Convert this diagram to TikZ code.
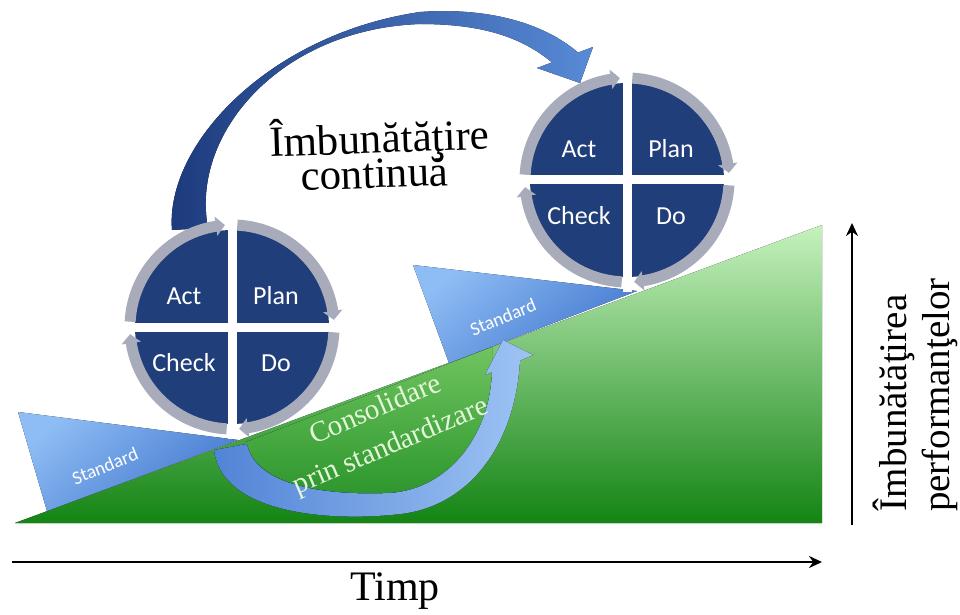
\documentclass[tikz,border=0pt]{standalone}
\usepackage{fontspec}
\setmainfont{Liberation Serif}
\newfontfamily\labelfont{Carlito}
\usetikzlibrary{arrows.meta,bending}

\definecolor{pdcanavy}{RGB}{32,62,122}
\definecolor{ringgray}{RGB}{168,172,186}
\definecolor{rampdark}{RGB}{20,132,20}
\definecolor{rampmid}{RGB}{92,178,82}
\definecolor{ramplight}{RGB}{198,242,190}
\definecolor{wedgelight}{RGB}{142,188,244}
\definecolor{wedgedark}{RGB}{66,120,206}
\definecolor{arcdark}{RGB}{28,58,124}
\definecolor{arclight}{RGB}{88,138,214}
\definecolor{bandlight}{RGB}{158,196,244}
\definecolor{banddark}{RGB}{82,132,214}
\definecolor{bowltop}{RGB}{112,196,96}
\definecolor{bowlbottom}{RGB}{44,150,44}
\definecolor{paletext}{RGB}{228,246,218}

\tikzset{
  rampfill/.style={top color=ramplight, middle color=rampmid, bottom color=rampdark},
  wedgefill/.style={top color=wedgelight, bottom color=wedgedark, shading angle=40},
  bandfill/.style={left color=banddark, right color=bandlight},
  arcfill/.style={left color=arcdark, right color=arclight},
  bowlfill/.style={top color=bowltop, bottom color=bowlbottom},
  ringarc/.style={draw=ringgray, line width=11pt, -{Triangle[length=9pt,width=19pt,bend]}},
  quadlabel/.style={text=white, font=\labelfont\fontsize{26}{30}\selectfont, inner sep=0pt},
  stdlabel/.style={text=white, font=\labelfont\fontsize{19}{22}\selectfont, rotate=22, inner sep=0pt},
  conslabel/.style={text=paletext, font=\fontsize{29}{39}\selectfont, rotate=23, inner sep=0pt, align=center},
  titlelabel/.style={text=black, font=\fontsize{43}{46}\selectfont, anchor=base, inner sep=0pt},
  axislabel/.style={text=black, font=\fontsize{39}{42}\selectfont, anchor=base, inner sep=0pt},
  axisarrow/.style={draw=black, line width=2.6pt, -{Stealth[length=13pt,width=12pt]}}
}

% One PDCA wheel: #1,#2 = centre, #3 = name suffix
\newcommand\pdcawheel[3]{%
  \begin{scope}[shift={(#1,#2)}]
    \fill[pdcanavy] (0,0) circle[radius=97];
    \draw[white, line width=9pt] (-112,0) -- (112,0) (0,-112) -- (0,112);
    \foreach \a in {0,90,180,270}
      \draw[ringarc] (\a+87:102) arc[start angle=\a+87, end angle=\a+4, radius=102];
    \node[quadlabel] (act#3)   at (-48,31)  {Act};
    \node[quadlabel] (plan#3)  at (44,31)   {Plan};
    \node[quadlabel] (check#3) at (-48,-36) {Check};
    \node[quadlabel] (do#3)    at (44,-36)  {Do};
  \end{scope}}

\begin{document}
\begin{tikzpicture}[x=1pt,y=1pt]
  \useasboundingbox (0,0) rectangle (960,614);
  \fill[white] (0,0) rectangle (960,614);

  % rising performance ramp
  \fill[rampfill] (15,91) -- (822,91) -- (822,389) -- cycle;

  % bowl under the consolidation arrow
  \fill[bowlfill] (246,172) .. controls (255,130) and (320,118) .. (390,121)
     .. controls (450,125) and (490,180) .. (492,242) -- (492,267) -- cycle;

  % standard wedges
  \fill[wedgefill] (18,202) -- (238,174) -- (47,103) -- cycle;
  \fill[wedgefill] (413,349) -- (637,323) -- (449,251) -- cycle;
  \node[stdlabel] (std1) at (105,148) {Standard};
  \node[stdlabel] (std2) at (503,297) {Standard};

  % consolidation arrow
  \fill[bandfill] (214,164) .. controls (222,100) and (330,92) .. (400,100)
     .. controls (470,108) and (515,170) .. (520,253.5)
     -- (533,259) -- (503,274) -- (485,239) -- (492,242)
     .. controls (490,180) and (450,125) .. (390,121)
     .. controls (320,118) and (255,130) .. (247,170) -- cycle;

  % continuous improvement arrow
  \fill[arcfill] (172,384) .. controls (165,470) and (270,580) .. (420,602)
     .. controls (490,607) and (545,590) .. (578,561.4)
     -- (593,567) -- (580,531) -- (537,546) -- (552,551.6)
     .. controls (520,578) and (480,590) .. (420,590)
     .. controls (280,585) and (190,480) .. (208,386) -- cycle;

  % PDCA wheels
  \pdcawheel{232}{287}{1}
  \pdcawheel{627}{434}{2}

  % texts
  \node[titlelabel, rotate=2] (title1) at (380,461) {Îmbunătăţire};
  \node[titlelabel, rotate=2] (title2) at (375,426) {continuă};
  \node[conslabel] (cons) at (383.5,185) {Consolidare\\prin standardizare};

  % axes
  \coordinate (t0) at (12,52);
  \coordinate (t1) at (822,52);
  \coordinate (p0) at (852,89);
  \coordinate (p1) at (852,391);
  \draw[axisarrow] (t0) -- (t1);
  \draw[axisarrow] (p0) -- (p1);
  \node[axislabel, font=\fontsize{42}{44}\selectfont] (timp) at (395,14) {Timp};
  \node[axislabel, rotate=90] (perf1) at (906,211) {Îmbunătăţirea};
  \node[axislabel, rotate=90] (perf2) at (949,219) {performanţelor};
\end{tikzpicture}
\end{document}
